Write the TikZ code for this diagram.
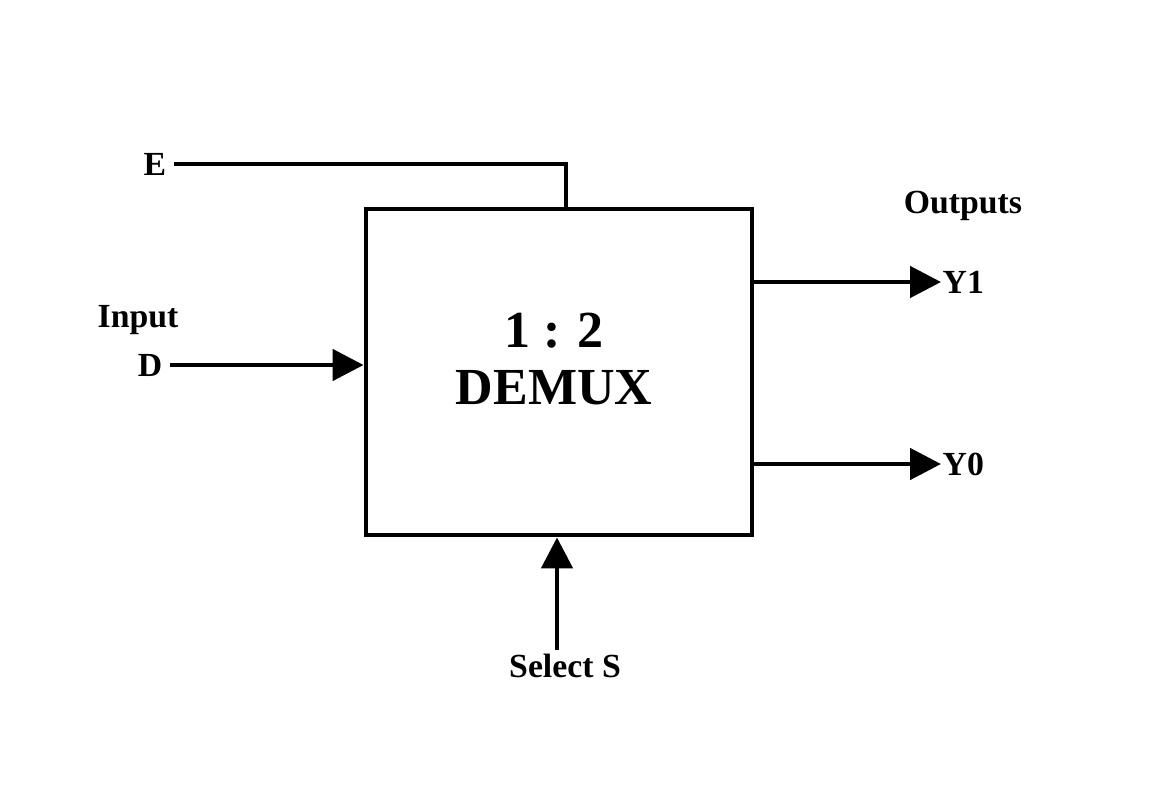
\documentclass[tikz,border=0pt]{standalone}
\usepackage{fontspec}
\setmainfont{Liberation Serif}
\usetikzlibrary{arrows.meta}

\begin{document}
\begin{tikzpicture}[x=0.025cm, y=-0.025cm]
		\tikzset{label/.style = {font=\fontsize{24}{28}\selectfont\bfseries, inner sep=1pt}}
		\tikzset{block/.style = {draw, line width=3.4pt, minimum width=9.65cm, minimum height=8.15cm}}
		\tikzset{title/.style = {font=\fontsize{37}{41}\selectfont\bfseries, align=center}}
		\tikzset{wire/.style = {line width=3.4pt}}
		\tikzset{edge/.style = {wire, -{Triangle[length=22pt, width=22pt]}}}
		\useasboundingbox (0, 0) rectangle (1174, 802);
		% block
		\node[block] (demux) at (559, 372) {};
		\node[title] (name) at (554, 359) {1 : 2\\DEMUX};
		% labels
		\node[label] (E) at (155, 164) {E};
		\node[label] (input) at (138, 320) {Input};
		\node[label, anchor=east] (D) at (164, 365) {D};
		\node[label] (outputs) at (963, 206) {Outputs};
		\node[label, anchor=west] (Y1) at (941, 282) {Y1};
		\node[label, anchor=west] (Y0) at (941, 464) {Y0};
		\node[label] (sel) at (565, 666) {Select S};
		% edges
		\draw[wire] ([xshift=4pt]E.east) -| ([xshift=0.175cm]demux.north);
		\draw[edge] ([xshift=4pt]D.east) -- (D.east -| demux.west);
		\draw[edge] (Y1.west -| demux.east) -- (Y1.west);
		\draw[edge] (Y0.west -| demux.east) -- (Y0.west);
		\draw[edge] ([xshift=-0.2cm, yshift=2pt]sel.north) -- ([xshift=-0.2cm]sel.north |- demux.south);
\end{tikzpicture}
\end{document}
